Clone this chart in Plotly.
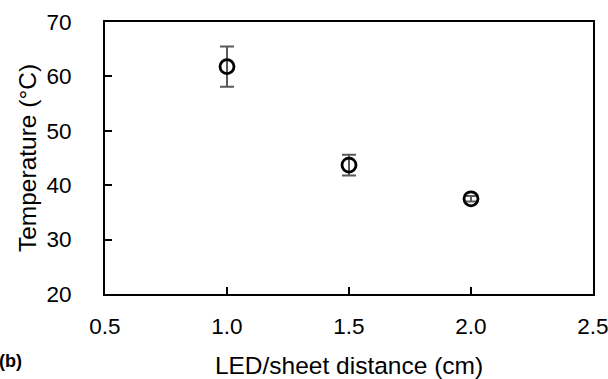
import plotly.graph_objects as go

distance = [1.0, 1.5, 2.0]
temperature = [61.8, 43.7, 37.5]
temp_err = [3.7, 1.9, 0.5]

x_ticks = [0.5, 1.0, 1.5, 2.0, 2.5]
y_ticks = [20, 30, 40, 50, 60, 70]

FONT = "Arial"

fig = go.Figure()
fig.add_trace(go.Scatter(
    x=distance, y=temperature, mode="markers",
    marker=dict(symbol="circle-open", size=14, color="black", line=dict(width=2.8, color="black")),
    error_y=dict(type="data", array=temp_err, visible=True, color="#595959", thickness=2, width=7),
    showlegend=False,
))

fig.update_layout(
    width=608, height=379,
    margin=dict(l=105, r=15, t=22, b=85, autoexpand=False),
    paper_bgcolor="white", plot_bgcolor="white",
    font=dict(family=FONT, size=22, color="black"),
)
fig.update_xaxes(
    range=[0.5, 2.5], tickvals=x_ticks, ticktext=[f"{v:.1f}" for v in x_ticks],
    ticks="inside", ticklen=7, tickwidth=2, tickcolor="black", ticklabelstandoff=11,
    ticklabeloverflow="allow", tickfont=dict(size=22.5),
    showline=True, linewidth=2, linecolor="black", mirror=True, showgrid=False, zeroline=False,
    title=dict(text="LED/sheet distance (cm)", standoff=22, font=dict(size=24.5)), automargin=False,
)
fig.update_yaxes(
    range=[20, 70], tickvals=y_ticks,
    ticks="inside", ticklen=7, tickwidth=2, tickcolor="black", ticklabelstandoff=27,
    ticklabeloverflow="allow", tickfont=dict(size=22.5),
    showline=True, linewidth=2, linecolor="black", mirror=True, showgrid=False, zeroline=False,
    title=dict(text="Temperature (°C)", standoff=3, font=dict(size=24.5)), automargin=False,
)
fig.add_annotation(text="<b>(b)</b>", xref="paper", yref="paper", x=-0.221, y=-0.245,
                   xanchor="left", yanchor="middle", showarrow=False,
                   font=dict(family=FONT, size=18, color="black"))
fig.write_html("out.html")
